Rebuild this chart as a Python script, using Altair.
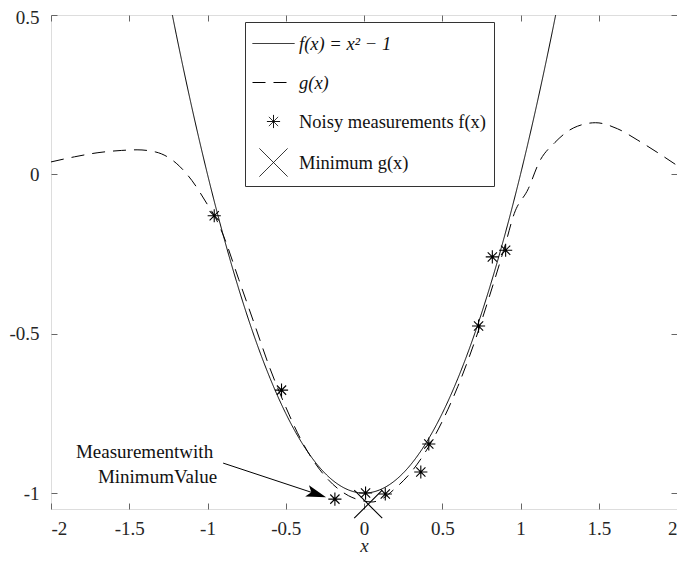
import altair as alt
import pandas as pd

FONT = "Liberation Serif"
W, H = 626, 494

# Legend / series names
NAMES = ["f(x) = x\u00b2 \u2212 1", "g(x)", "Noisy measurements f(x)", "Minimum g(x)"]

# f(x) = x^2 - 1 (solid curve)
f_x = [-1.3, -1.2, -1.1, -1.0, -0.9, -0.8, -0.7, -0.6, -0.5, -0.4, -0.3, -0.2, -0.1, 0.0,
       0.1, 0.2, 0.3, 0.4, 0.5, 0.6, 0.7, 0.8, 0.9, 1.0, 1.1, 1.2, 1.3]
f_y = [0.69, 0.44, 0.21, 0.0, -0.19, -0.36, -0.51, -0.64, -0.75, -0.84, -0.91, -0.96, -0.99, -1.0,
       -0.99, -0.96, -0.91, -0.84, -0.75, -0.64, -0.51, -0.36, -0.19, 0.0, 0.21, 0.44, 0.69]

# g(x) (dashed curve)
g_x = [-2.0, -1.85, -1.7, -1.55, -1.45, -1.33, -1.2, -1.1, -1.0, -0.95, -0.9, -0.8, -0.7,
       -0.6, -0.5, -0.4, -0.3, -0.2, -0.1, 0.0, 0.05, 0.1, 0.2, 0.3, 0.4, 0.5, 0.6, 0.7,
       0.8, 0.9, 0.96, 1.05, 1.12, 1.22, 1.34, 1.48, 1.62, 1.75, 1.88, 2.0]
g_y = [0.039, 0.055, 0.068, 0.075, 0.077, 0.070, 0.035, -0.019, -0.095, -0.135, -0.19, -0.33,
       -0.47, -0.61, -0.73, -0.835, -0.915, -0.972, -1.008, -1.025, -1.028, -1.022, -0.985,
       -0.935, -0.865, -0.775, -0.665, -0.535, -0.385, -0.225, -0.123, -0.045, 0.039, 0.10,
       0.146, 0.162, 0.143, 0.107, 0.067, 0.028]

# Noisy measurements
m_x = [-0.957, -0.527, -0.186, 0.01, 0.136, 0.363, 0.414, 0.732, 0.82, 0.905]
m_y = [-0.13, -0.677, -1.019, -1.0, -1.003, -0.934, -0.846, -0.476, -0.259, -0.238]

# Minimum of g
min_x = [0.027]
min_y = [-1.035]

# Annotation
note_text = ["Measurementwith", "MinimumValue"]
note_x = [-0.964, -0.938]
note_y = [-0.871, -0.950]
arrow_x, arrow_y = [-0.900], [-0.906]
arrow_x2, arrow_y2 = [-0.303], [-1.003]
head_x, head_y = [-0.303], [-1.003]

x_ticks = [-2, -1.5, -1, -0.5, 0, 0.5, 1, 1.5, 2]
y_ticks = [-1, -0.5, 0, 0.5]

lines_df = pd.concat([
    pd.DataFrame({"x": f_x, "y": f_y, "series": NAMES[0]}),
    pd.DataFrame({"x": g_x, "y": g_y, "series": NAMES[1]}),
])
pts_df = pd.concat([
    pd.DataFrame({"x": m_x, "y": m_y, "series": NAMES[2]}),
    pd.DataFrame({"x": min_x, "y": min_y, "series": NAMES[3]}),
])
note_df = pd.DataFrame({"x": note_x, "y": note_y, "t": note_text})
arrow_df = pd.DataFrame({"x": arrow_x, "y": arrow_y, "x2": arrow_x2, "y2": arrow_y2})
head_df = pd.DataFrame({"x": head_x, "y": head_y})

LINE_PATH = "M-1.5,0L1.5,0"
STAR_PATH = ("M-0.47,0L0.47,0M0,-0.47L0,0.47M-0.33,-0.33L0.33,0.33M-0.33,0.33L0.33,-0.33")
X_PATH = "M-1,-1L1,1M-1,1L1,-1"
HEAD_PATH = "M1,0L-1,-0.6L-0.55,0L-1,0.6Z"

xs = alt.Scale(domain=[-2, 2], nice=False, zero=False)
ys = alt.Scale(domain=[-1.05, 0.5], nice=False, zero=False)

LEG = alt.Legend(
    title=None, orient="none", legendX=194, legendY=7,
    labelFont=FONT, labelFontSize=18.5, labelColor="#111", labelLimit=400,
    labelFontStyle={"expr": "(datum.label == 'g(x)' || indexof(datum.label, '=') >= 0) ? 'italic' : 'normal'"},
    symbolSize=784, symbolStrokeWidth=1, symbolStrokeColor="black", symbolFillColor="transparent",
    symbolOffset=7, rowPadding=15, labelOffset=11, padding=7,
    strokeColor="#333", fillColor="white",
)

LBL = dict(labelFont=FONT, labelFontSize=19, labelColor="#262626")

tick_axis_common = dict(values=x_ticks, labels=False, ticks=True, tickSize=6, domain=False,
                        grid=False, title=None, tickColor="#666")

lines = alt.Chart(lines_df).mark_line(clip=True, color="black", strokeWidth=1, interpolate="monotone").encode(
    x=alt.X("x:Q", scale=xs, axis=alt.Axis(
        orient="bottom", values=x_ticks, labelExpr="toString(datum.value)", ticks=False,
        domain=False, grid=False, title="x", titleFontStyle="italic", titleFont=FONT,
        titleFontSize=19, titleFontWeight="normal", titleColor="#262626", labelPadding=10,
        titleY=42, titleBaseline="alphabetic", **LBL)),
    y=alt.Y("y:Q", scale=ys, axis=alt.Axis(
        orient="left", values=y_ticks, labelExpr="toString(datum.value)", ticks=False,
        domain=False, grid=False, title=None, labelPadding=12,
        labelOffset={"condition": {"test": "datum.value == 0.5", "value": 2}, "value": 0},
        **LBL)),
    strokeDash=alt.StrokeDash("series:N", scale=alt.Scale(
        domain=NAMES, range=[[1, 0], [13, 8], [1, 0], [1, 0]]), legend=LEG),
)

points = alt.Chart(pts_df).mark_point(filled=False, opacity=1, size=784, strokeWidth=1.1,
                                       color="black").encode(
    x=alt.X("x:Q", scale=xs, axis=alt.Axis(orient="top", offset=-H, **tick_axis_common)),
    y=alt.Y("y:Q", scale=ys, axis=alt.Axis(
        orient="right", offset=-W, values=y_ticks, labels=False, ticks=True, tickSize=6,
        domain=False, grid=False, title=None, tickColor="#666")),
    shape=alt.Shape("series:N", scale=alt.Scale(
        domain=NAMES, range=[LINE_PATH, LINE_PATH, STAR_PATH, X_PATH]), legend=LEG),
)

notes = alt.Chart(note_df).mark_text(align="right", baseline="middle", font=FONT, fontSize=19,
                                     color="#111").encode(
    x=alt.X("x:Q", scale=xs, axis=alt.Axis(orient="bottom", offset=-H, **tick_axis_common)),
    y=alt.Y("y:Q", scale=ys, axis=alt.Axis(
        orient="left", offset=-W, values=y_ticks, labels=False, ticks=True, tickSize=6,
        domain=False, grid=False, title=None, tickColor="#666")),
    text="t:N",
)

arrow = alt.Chart(arrow_df).mark_rule(color="black", strokeWidth=1).encode(
    x=alt.X("x:Q", scale=xs, axis=None),
    y=alt.Y("y:Q", scale=ys, axis=None),
    x2="x2:Q", y2="y2:Q",
)

head = alt.Chart(head_df).mark_point(shape=HEAD_PATH, filled=True, opacity=1, size=400,
                                     angle=18.3, color="black", strokeWidth=0).encode(
    x=alt.X("x:Q", scale=xs, axis=None),
    y=alt.Y("y:Q", scale=ys, axis=None),
)

chart = alt.layer(lines, points, notes, arrow, head).resolve_axis(
    x="independent", y="independent"
).properties(
    width=W, height=H,
    autosize=alt.AutoSizeParams(type="none"),
    padding={"left": 43, "top": 7, "right": 0, "bottom": 44},
).configure_view(
    stroke="#707070", strokeWidth=1
).configure(background="white")

chart.save("out.html", embed_options={"renderer": "svg", "actions": False})
